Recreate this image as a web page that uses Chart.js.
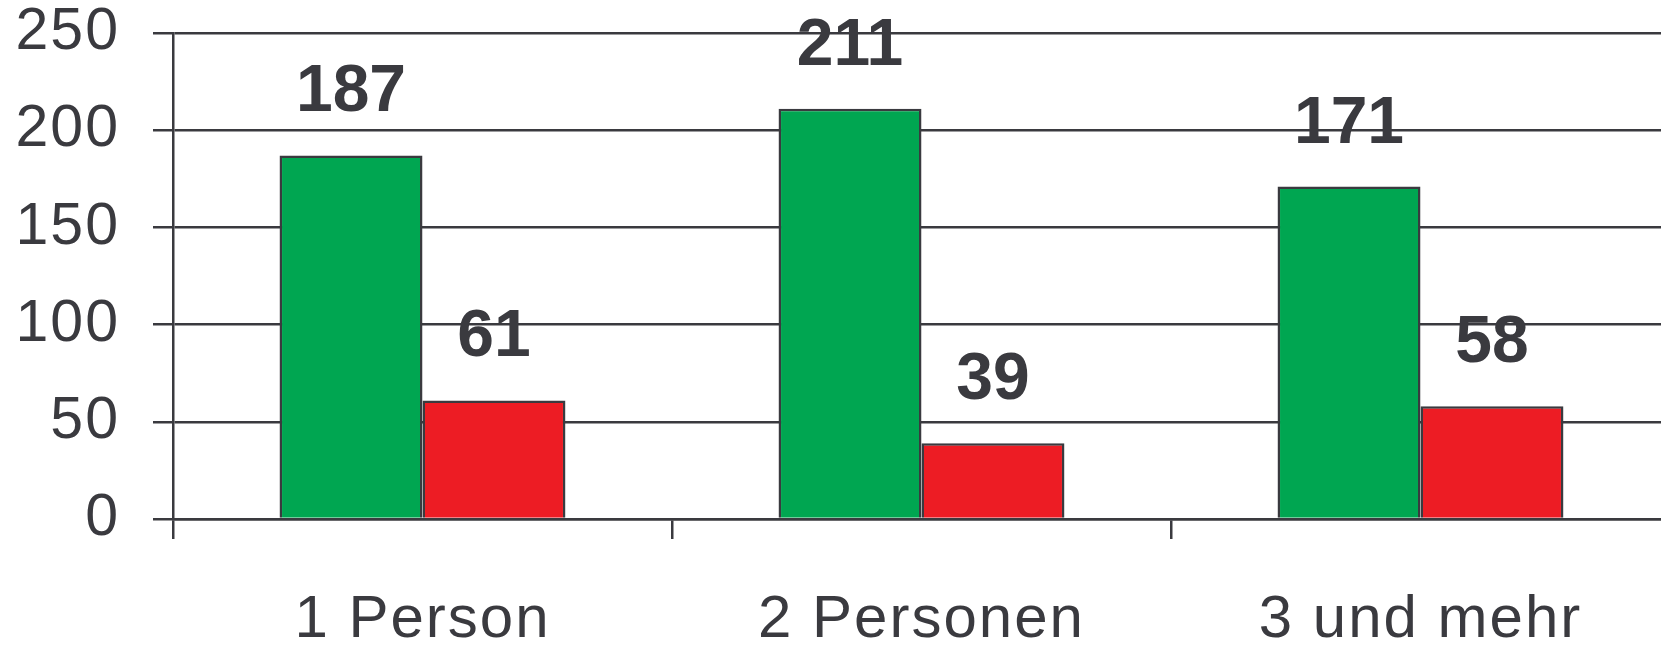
<!DOCTYPE html>
<html>
<head>
<meta charset="utf-8">
<script src="https://cdn.jsdelivr.net/npm/chart.js@4/dist/chart.umd.min.js"></script>
<style>
  html, body { margin: 0; padding: 0; background: #ffffff; overflow: hidden; }
  #wrap { width: 1670px; height: 646px; position: relative; }
</style>
</head>
<body>
<div id="wrap"><canvas id="c"></canvas></div>
<script>
const categories = ["1 Person", "2 Personen", "3 und mehr"];
const greenValues = [187, 211, 171];
const redValues = [61, 39, 58];
const yTicks = [0, 50, 100, 150, 200, 250];

const ink = "#3a3a3f";
const font = "'Liberation Sans', Arial, Helvetica, sans-serif";

const spacing = {
  id: "spacing",
  beforeDraw(chart) { chart.ctx.letterSpacing = "2px"; },
  afterDraw(chart) { chart.ctx.letterSpacing = "0px"; }
};

const valueLabels = {
  id: "valueLabels",
  afterDatasetsDraw(chart) {
    const ctx = chart.ctx;
    ctx.save();
    ctx.letterSpacing = "0px";
    ctx.fillStyle = ink;
    ctx.font = "bold 66px " + font;
    ctx.textAlign = "center";
    ctx.textBaseline = "alphabetic";
    chart.data.datasets.forEach((ds, i) => {
      const meta = chart.getDatasetMeta(i);
      meta.data.forEach((el, j) => {
        ctx.fillText(String(ds.data[j]), el.x, el.y - 44);
      });
    });
    ctx.restore();
  }
};

new Chart(document.getElementById("c"), {
  type: "bar",
  data: {
    labels: categories,
    datasets: [
      { label: "Serie 1", data: greenValues, backgroundColor: "#00a651", borderColor: ink, borderWidth: 2.5, borderSkipped: "bottom" },
      { label: "Serie 2", data: redValues, backgroundColor: "#ed1c24", borderColor: ink, borderWidth: 2.5, borderSkipped: "bottom" }
    ]
  },
  options: {
    responsive: true,
    maintainAspectRatio: false,
    animation: false,
    devicePixelRatio: 1,
    layout: { padding: { top: 33, right: 0, left: 0, bottom: 0 } },
    plugins: { legend: { display: false }, tooltip: { enabled: false } },
    datasets: { bar: { categoryPercentage: 0.573, barPercentage: 1.0 } },
    scales: {
      x: {
        grid: { drawOnChartArea: false, drawTicks: true, tickLength: 20, color: ink, lineWidth: 2.5 },
        border: { display: true, color: ink, width: 2.5 },
        ticks: { color: ink, font: { family: font, size: 60 }, padding: 45, maxRotation: 0 },
        afterFit(scale) { scale.height = 127; scale.paddingLeft = 0; scale.paddingRight = 0; }
      },
      y: {
        min: 0, max: 250,
        afterBuildTicks(scale) { scale.ticks = yTicks.map(v => ({ value: v })); },
        grid: { color: ink, lineWidth: 2.5, tickLength: 20, drawTicks: true },
        border: { display: true, color: ink, width: 2.5 },
        ticks: { color: ink, font: { family: font, size: 59 }, padding: 33 },
        afterFit(scale) { scale.width = 173; scale.paddingTop = 0; scale.paddingBottom = 0; }
      }
    }
  },
  plugins: [spacing, valueLabels]
});
</script>
</body>
</html>
